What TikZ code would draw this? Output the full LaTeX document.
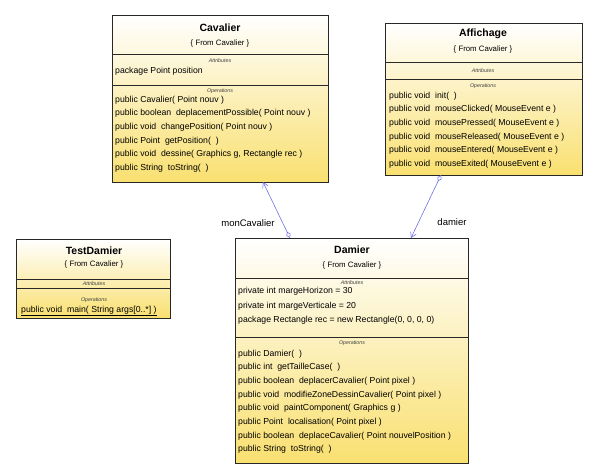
\documentclass[tikz,border=0pt]{standalone}
\usepackage{fontspec}
\setmainfont{Liberation Sans}
\usetikzlibrary{arrows.meta,calc}
\definecolor{classfill}{RGB}{249,224,112}
\definecolor{classline}{RGB}{40,40,40}
\definecolor{linkblue}{RGB}{112,112,230}

\begin{document}
\begin{tikzpicture}
  [
    x=1pt, y=-1pt,
    classbox/.style =
      {draw=classline, line width=0.8pt, anchor=north west, inner sep=0pt,
       outer sep=0pt, top color=white, bottom color=classfill},
    divider/.style = {classline, line width=0.8pt},
    classname/.style = {font=\fontsize{10.5}{12}\selectfont\bfseries, inner sep=0pt},
    origin/.style = {font=\fontsize{7.8}{9}\selectfont, inner sep=0pt},
    part/.style = {font=\fontsize{5.3}{6}\selectfont\itshape, text=black!75, inner sep=0pt},
    members/.style =
      {font=\fontsize{8.7}{13.7}\selectfont, align=left, anchor=north west, inner sep=0pt},
    role/.style = {font=\fontsize{9.5}{11}\selectfont, inner sep=0pt},
    assoc/.style =
      {draw=linkblue, line width=0.6pt,
       {Diamond[open,length=7pt,width=4.5pt]}-{Straight Barb[length=5pt,width=6pt]}}
  ]
  \useasboundingbox (0,0) rectangle (589,467);

  % Cavalier
  \node [classbox, minimum width=216pt, minimum height=167pt] at (112,15) (cav) {};
  \draw [divider] (112,54) -- (328,54);
  \draw [divider] (112,85) -- (328,85);
  \node [classname] at (220,28) (cavName) {Cavalier};
  \node [origin] at (220,43) (cavFrom) {\{ From Cavalier \}};
  \node [part] at (220,61) (cavAttr) {Attributes};
  \node [members] at (115,66.5) (cavAttrList) {package Point position};
  \node [part] at (220,91) (cavOps) {Operations};
  \node [members] at (115,95.5) (cavOpList)
    {public Cavalier( Point nouv )\\
     public boolean~ deplacementPossible( Point nouv )\\
     public void~ changePosition( Point nouv )\\
     public Point~ getPosition(~ )\\
     public void~ dessine( Graphics g, Rectangle rec )\\
     public String~ toString(~ )};

  % Affichage
  \node [classbox, minimum width=197pt, minimum height=152pt] at (385,23) (aff) {};
  \draw [divider] (385,62) -- (582,62);
  \draw [divider] (385,79) -- (582,79);
  \node [classname] at (483,34) (affName) {Affichage};
  \node [origin] at (483,49) (affFrom) {\{ From Cavalier \}};
  \node [part] at (483,71) (affAttr) {Attributes};
  \node [part] at (483,86) (affOps) {Operations};
  \node [members] at (389,91.5) (affOpList)
    {public void~ init(~ )\\
     public void~ mouseClicked( MouseEvent e )\\
     public void~ mousePressed( MouseEvent e )\\
     public void~ mouseReleased( MouseEvent e )\\
     public void~ mouseEntered( MouseEvent e )\\
     public void~ mouseExited( MouseEvent e )};

  % TestDamier
  \node [classbox, minimum width=154pt, minimum height=79pt] at (16,239) (test) {};
  \draw [divider] (16,279) -- (170,279);
  \draw [divider] (16,288) -- (170,288);
  \node [classname] at (94,251) (testName) {TestDamier};
  \node [origin] at (94,264) (testFrom) {\{ From Cavalier \}};
  \node [part] at (94,283.5) (testAttr) {Attributes};
  \node [part] at (94,300) (testOps) {Operations};
  \node [members] at (21,305.5) (testOpList)
    {\underline{public void~ main( String args[0..*] )}};

  % Damier
  \node [classbox, minimum width=233pt, minimum height=225pt] at (235,238) (dam) {};
  \draw [divider] (235,278) -- (468,278);
  \draw [divider] (235,337) -- (468,337);
  \node [classname] at (352,250) (damName) {Damier};
  \node [origin] at (352,265) (damFrom) {\{ From Cavalier \}};
  \node [part] at (352,283) (damAttr) {Attributes};
  \node [members, font=\fontsize{8.7}{14.5}\selectfont] at (238,287) (damAttrList)
    {private int margeHorizon = 30\\
     private int margeVerticale = 20\\
     package Rectangle rec = new Rectangle(0, 0, 0, 0)};
  \node [part] at (352,343) (damOps) {Operations};
  \node [members] at (238,349.5) (damOpList)
    {public Damier(~ )\\
     public int~ getTailleCase(~ )\\
     public boolean~ deplacerCavalier( Point pixel )\\
     public void~ modifieZoneDessinCavalier( Point pixel )\\
     public void~ paintComponent( Graphics g )\\
     public Point~ localisation( Point pixel )\\
     public boolean~ deplaceCavalier( Point nouvelPosition )\\
     public String~ toString(~ )};

  % associations
  \coordinate (cavFoot) at ($(cav.south west)+(151,0)$);
  \coordinate (damLeftHead) at ($(dam.north west)+(55,0)$);
  \coordinate (affFoot) at ($(aff.south west)+(56,0)$);
  \coordinate (damRightHead) at ($(dam.north west)+(176,0)$);

  \draw [assoc] (damLeftHead) -- (cavFoot);
  \draw [assoc] (affFoot) -- (damRightHead);

  \node [role] at (248,223) (monCavalierRole) {monCavalier};
  \node [role] at (452,222) (damierRole) {damier};

\end{tikzpicture}
\end{document}
